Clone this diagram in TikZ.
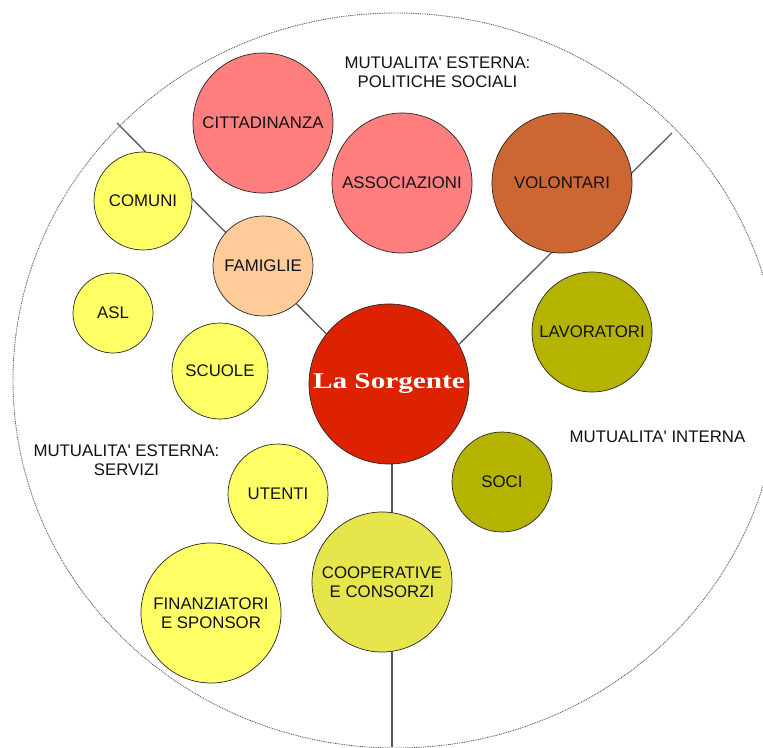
\documentclass[tikz,border=0pt]{standalone}
\usepackage{fontspec}
\usepackage{graphicx}
\newfontfamily\labfont{Liberation Sans}
\newfontfamily\srgfont{Liberation Serif}
\usetikzlibrary{backgrounds}
\definecolor{pinkc}{HTML}{FF7F7F}
\definecolor{volc}{HTML}{CC6633}
\definecolor{olivec}{HTML}{B4B400}
\definecolor{redc}{HTML}{DD2200}
\definecolor{peachc}{HTML}{FFCC99}
\definecolor{yelc}{HTML}{FFFF66}
\definecolor{coopc}{HTML}{E6E64C}
\definecolor{txtc}{HTML}{111118}
\begin{document}
\begin{tikzpicture}[x=1pt,y=-1pt,
  bub/.style={circle,draw=black!85,line width=0.7pt,inner sep=0pt,minimum size=#1,align=center,text=txtc,font=\labfont\fontsize{16.8}{19}\selectfont},
  lab/.style={align=center,text=txtc,font=\labfont\fontsize{16.8}{18.5}\selectfont},
  conn/.style={draw=black!65,line width=1.3pt}]
\useasboundingbox (0,0) rectangle (763,747);
\clip (0,0) rectangle (763,747);
\draw[black!65,line width=0.9pt,dash pattern=on 0.9pt off 0.9pt] (396,380.5) ellipse [x radius=383,y radius=367.5];
% bubbles
\node[bub=140pt,fill=pinkc] (citt) at (263,123) {CITTADINANZA};
\node[bub=140pt,fill=pinkc] (asso) at (402,183) {ASSOCIAZIONI};
\node[bub=140pt,fill=volc] (volo) at (562,183) {VOLONTARI};
\node[bub=98pt,fill=yelc] (comu) at (143,201) {COMUNI};
\node[bub=100pt,fill=peachc] (fami) at (263,266) {FAMIGLIE};
\node[bub=80pt,fill=yelc] (asl) at (113,313) {ASL};
\node[bub=96pt,fill=yelc] (scuo) at (220,371) {SCUOLE};
\node[bub=120pt,fill=olivec] (lavo) at (592,332) {LAVORATORI};
\node[bub=160pt,fill=redc,text=white,font=\srgfont\bfseries\fontsize{22.5}{24}\selectfont] (sorg) at (389,384) {\scalebox{1.3}[1]{La Sorgente}};
\node[bub=100pt,fill=yelc] (uten) at (278,494) {UTENTI};
\node[bub=100pt,fill=olivec] (soci) at (502,482) {SOCI};
\node[bub=140pt,fill=yelc] (fina) at (211,613) {FINANZIATORI\\E SPONSOR};
\node[bub=140pt,fill=coopc] (coop) at (382,582) {COOPERATIVE\\E CONSORZI};
% labels
\node[lab] (lpol) at (437.5,72) {MUTUALITA' ESTERNA:\\POLITICHE SOCIALI};
\node[lab] (lser) at (126.5,460) {MUTUALITA' ESTERNA:\\SERVIZI};
\node[lab] (lint) at (657.5,437) {MUTUALITA' INTERNA};
% connectors
\coordinate (ctl) at (117,123);
\coordinate (cvl) at (388,396);
\coordinate (ctr) at (672,133);
\coordinate (cvr) at (420,383);
\coordinate (cb) at (392,747);
\begin{scope}[on background layer]
\draw[conn] (cvl) -- (ctl);
\draw[conn] (cvr) -- (ctr);
\draw[conn] (sorg.center -| cb) -- (cb);
\end{scope}
\end{tikzpicture}
\end{document}
